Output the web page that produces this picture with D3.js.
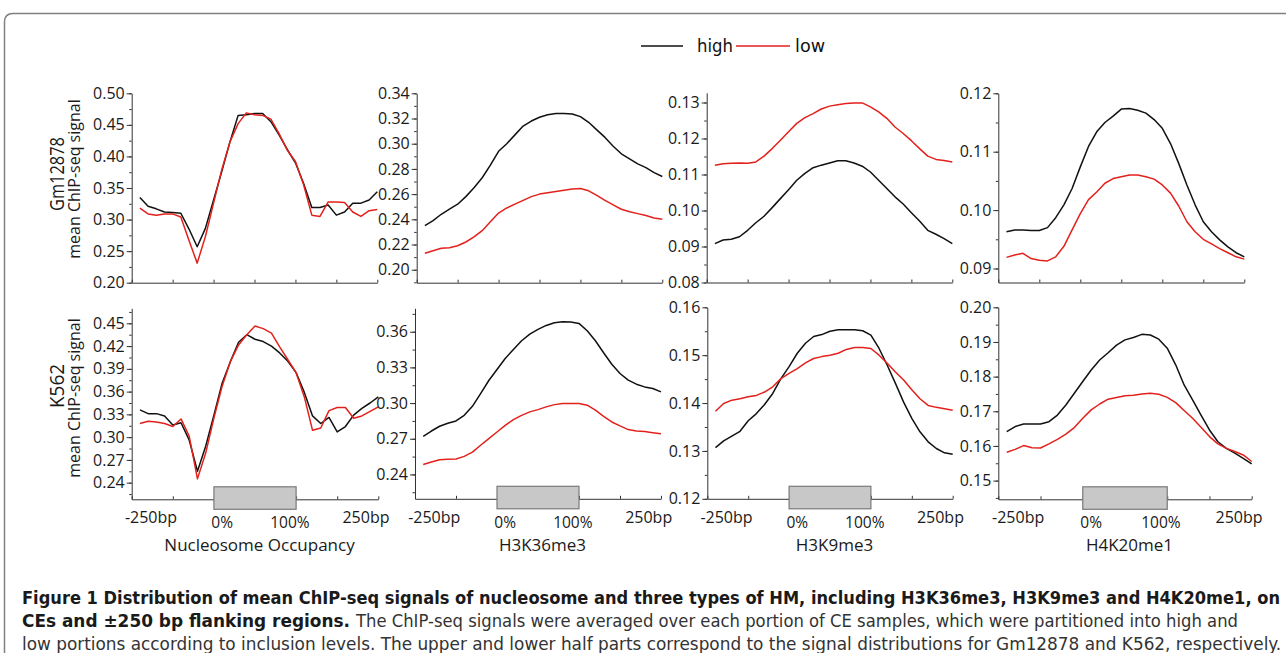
<!DOCTYPE html>
<html><head><meta charset="utf-8">
<script src="https://cdn.jsdelivr.net/npm/d3@7"></script>
<style>body{margin:0;background:#fff}svg{display:block}</style>
</head><body>
<svg id="chart" width="1286" height="653"></svg>
<script>
// ---------------- data ----------------
const bins = [1,2,3,4,5,6,7,8,9,10,11,12,13,14,15,16,17,18,19,20,21,22,23,24,25,26,27,28,29,30];
const seriesNames = ["high", "low"];
const rowNames = ["Gm12878", "K562"];
const colNames = ["Nucleosome Occupancy", "H3K36me3", "H3K9me3", "H4K20me1"];
const xTickLabels = ["-250bp", "0%", "100%", "250bp"];
const xTickLabelBins = [2.35, 11, 19.25, 28.5];

// Gm12878
const gmNucHigh = [0.335,0.321,0.317,0.312,0.311,0.310,0.285,0.257,0.286,0.331,0.376,0.423,0.465,0.466,0.468,0.468,0.455,0.434,0.411,0.390,0.357,0.319,0.319,0.323,0.307,0.312,0.326,0.326,0.331,0.344];
const gmNucLow  = [0.318,0.309,0.307,0.309,0.309,0.304,0.267,0.231,0.273,0.326,0.379,0.423,0.452,0.469,0.466,0.465,0.459,0.436,0.410,0.392,0.355,0.307,0.305,0.328,0.328,0.327,0.312,0.305,0.314,0.316];
const gmK36High = [0.235,0.239,0.244,0.248,0.252,0.258,0.265,0.273,0.283,0.294,0.300,0.307,0.314,0.318,0.321,0.323,0.324,0.324,0.3236,0.3215,0.317,0.311,0.305,0.298,0.292,0.288,0.284,0.281,0.277,0.274];
const gmK36Low  = [0.213,0.215,0.217,0.2175,0.219,0.222,0.226,0.231,0.238,0.245,0.249,0.252,0.255,0.258,0.260,0.261,0.262,0.263,0.264,0.2645,0.2626,0.259,0.255,0.2515,0.248,0.246,0.2445,0.243,0.241,0.240];
const gmK9High  = [0.0908,0.0918,0.0920,0.0927,0.0945,0.0966,0.0984,0.1008,0.1033,0.1058,0.1084,0.1103,0.1119,0.1126,0.1132,0.1138,0.1138,0.1132,0.1123,0.1107,0.1084,0.1061,0.1038,0.1018,0.0994,0.0971,0.0945,0.0934,0.0922,0.0908];
const gmK9Low   = [0.1126,0.1130,0.1131,0.1132,0.1131,0.1135,0.1151,0.1172,0.1195,0.1219,0.1242,0.1258,0.1269,0.1282,0.1290,0.1294,0.1297,0.1299,0.1299,0.1288,0.1274,0.1256,0.1232,0.1214,0.1194,0.1172,0.1151,0.1142,0.1139,0.1135];
const gmK20High = [0.0963,0.0966,0.0966,0.0965,0.0965,0.0970,0.0987,0.1009,0.1037,0.1074,0.1109,0.1134,0.1150,0.1161,0.1173,0.1174,0.1171,0.1166,0.1155,0.1140,0.1114,0.1080,0.1043,0.1009,0.0980,0.0963,0.0949,0.0937,0.0927,0.0920];
const gmK20Low  = [0.0919,0.0923,0.0926,0.0917,0.0914,0.0913,0.0920,0.0938,0.0966,0.0994,0.1018,0.1031,0.1046,0.1054,0.1057,0.1060,0.1060,0.1057,0.1053,0.1043,0.1029,0.1007,0.0980,0.0963,0.0950,0.0942,0.0934,0.0927,0.0920,0.0916];
// K562
const kNucHigh  = [0.336,0.331,0.331,0.328,0.316,0.319,0.296,0.255,0.288,0.329,0.371,0.3995,0.425,0.435,0.429,0.426,0.420,0.411,0.400,0.385,0.359,0.328,0.318,0.326,0.307,0.314,0.329,0.338,0.345,0.353];
const kNucLow   = [0.318,0.321,0.320,0.318,0.314,0.324,0.301,0.245,0.279,0.325,0.367,0.3995,0.4215,0.435,0.4465,0.443,0.437,0.419,0.402,0.385,0.353,0.309,0.312,0.335,0.339,0.339,0.325,0.328,0.334,0.340];
const kK36High  = [0.272,0.2765,0.2805,0.283,0.285,0.2897,0.2973,0.308,0.319,0.3282,0.3375,0.345,0.3524,0.358,0.362,0.3653,0.3676,0.3684,0.3681,0.367,0.3608,0.3524,0.3423,0.3327,0.3249,0.3193,0.3159,0.3136,0.3122,0.3094];
const kK36Low   = [0.2484,0.2504,0.2524,0.2527,0.2529,0.2552,0.2588,0.2645,0.2701,0.2757,0.2813,0.2861,0.2897,0.2926,0.2945,0.2968,0.2987,0.2996,0.2996,0.2996,0.2982,0.294,0.2889,0.2841,0.2808,0.2777,0.2765,0.276,0.2751,0.2743];
const kK9High   = [0.1307,0.1321,0.1331,0.1341,0.1363,0.1378,0.1397,0.1420,0.1451,0.1476,0.1504,0.1525,0.1539,0.1543,0.1550,0.1553,0.1553,0.1553,0.1551,0.1542,0.1514,0.1479,0.1441,0.1402,0.1368,0.1340,0.1319,0.1305,0.1296,0.1293];
const kK9Low    = [0.1383,0.1399,0.1406,0.1409,0.1413,0.1416,0.1423,0.1434,0.1451,0.1462,0.1472,0.1484,0.1493,0.1497,0.1500,0.1504,0.1512,0.1516,0.1516,0.1514,0.1500,0.1483,0.1465,0.1448,0.1428,0.1409,0.1395,0.1391,0.1388,0.1385];
const kK20High  = [0.1641,0.1656,0.1663,0.1663,0.1663,0.1670,0.1689,0.1718,0.1752,0.1786,0.1819,0.1848,0.1869,0.1891,0.1906,0.1913,0.1922,0.1920,0.1908,0.1882,0.1834,0.1776,0.1733,0.1689,0.1646,0.1612,0.1593,0.1579,0.1564,0.1548];
const kK20Low   = [0.1582,0.1590,0.1601,0.1595,0.1594,0.1606,0.1619,0.1634,0.1653,0.1680,0.1704,0.1721,0.1735,0.1740,0.1745,0.1746,0.1750,0.1752,0.1749,0.1740,0.1725,0.1702,0.1680,0.1654,0.1627,0.1606,0.1593,0.1584,0.1574,0.1555];

// y tick labels
const gmNucTicks = [0.20,0.25,0.30,0.35,0.40,0.45,0.50];
const gmK36Ticks = [0.20,0.22,0.24,0.26,0.28,0.30,0.32,0.34];
const gmK9Ticks  = [0.08,0.09,0.10,0.11,0.12,0.13];
const gmK20Ticks = [0.09,0.10,0.11,0.12];
const kNucTicks  = [0.24,0.27,0.30,0.33,0.36,0.39,0.42,0.45];
const kK36Ticks  = [0.24,0.27,0.30,0.33,0.36];
const kK9Ticks   = [0.12,0.13,0.14,0.15,0.16];
const kK20Ticks  = [0.15,0.16,0.17,0.18,0.19,0.20];

// ---------------- layout / style ----------------
const colors = {high: "#111111", low: "#e3211c"};
const FONT = "'Open Sans', 'DejaVu Sans', sans-serif";
const NARROW = "'Liberation Sans Narrow', 'DejaVu Sans Condensed', 'Liberation Sans', sans-serif";

const panels = [
  {row:0,col:0,high:gmNucHigh,low:gmNucLow,ticks:gmNucTicks,dom:[0.20,0.50],rng:[282.7,93.3],x:[131.7,377.3]},
  {row:0,col:1,high:gmK36High,low:gmK36Low,ticks:gmK36Ticks,dom:[0.1897,0.34],rng:[282.7,93.3],x:[416.7,662.3]},
  {row:0,col:2,high:gmK9High,low:gmK9Low,ticks:gmK9Ticks,dom:[0.08,0.1327],rng:[282.5,92.8],x:[706.7,952.3]},
  {row:0,col:3,high:gmK20High,low:gmK20Low,ticks:gmK20Ticks,dom:[0.0876,0.12],rng:[282.5,93.3],x:[998.3,1244.3]},
  {row:1,col:0,high:kNucHigh,low:kNucLow,ticks:kNucTicks,dom:[0.2181,0.4698],rng:[499.3,308.3],x:[131.7,378.3]},
  {row:1,col:1,high:kK36High,low:kK36Low,ticks:kK36Ticks,dom:[0.2195,0.3797],rng:[498.8,308.3],x:[415,661]},
  {row:1,col:2,high:kK9High,low:kK9Low,ticks:kK9Ticks,dom:[0.12,0.16],rng:[498.8,307.3],x:[707.3,952.7]},
  {row:1,col:3,high:kK20High,low:kK20Low,ticks:kK20Ticks,dom:[0.1446,0.20],rng:[499.3,307.3],x:[998.3,1251.7]}
];

const svg = d3.select("#chart");
svg.append("rect").attr("width",1286).attr("height",653).attr("fill","#fff");

// frame
svg.append("path")
  .attr("d","M1290,13.5 L13,13.5 Q4.5,13.5 4.5,22 L4.5,660")
  .attr("fill","none").attr("stroke","#808080").attr("stroke-width",1.5);

// legend
const leg = svg.append("g").attr("class","legend");
const legLines = [[641,683],[736,790]];
const legText = [697,795];
const legLen = [36,30];
seriesNames.forEach((s,i)=>{
  leg.append("line").attr("x1",legLines[i][0]).attr("x2",legLines[i][1])
    .attr("y1",46).attr("y2",46).attr("stroke",colors[s]).attr("stroke-width",1.6);
  leg.append("text").attr("x",legText[i]).attr("y",52)
    .attr("font-family",NARROW).attr("font-size",18).attr("fill","#111")
    .attr("textLength",legLen[i]).attr("lengthAdjust","spacingAndGlyphs").text(s);
});

panels.forEach(p=>{
  const g = svg.append("g");
  const x = d3.scaleLinear().domain([0,30]).range(p.x);
  const y = d3.scaleLinear().domain(p.dom).range(p.rng);
  const step = p.ticks[1]-p.ticks[0];
  const minor = [];
  for (let v = p.ticks[0] - step/2; v <= p.dom[1] + 1e-9; v += step/2) {
    if (v >= p.dom[0] - 1e-9) minor.push(v);
  }
  // minor y ticks
  const ym = g.append("g").attr("transform",`translate(${p.x[0]},0)`)
    .call(d3.axisLeft(y).tickValues(minor).tickSize(2.5).tickSizeOuter(0).tickFormat(""));
  ym.select(".domain").remove();
  ym.selectAll("line").attr("stroke","#333");
  // major y axis
  const ya = g.append("g").attr("transform",`translate(${p.x[0]},0)`)
    .call(d3.axisLeft(y).tickValues(p.ticks).tickSize(5).tickPadding(2).tickSizeOuter(0).tickFormat(d3.format(".2f")));
  ya.select(".domain").attr("stroke","#333");
  ya.selectAll("line").attr("stroke","#333");
  ya.selectAll("text").attr("font-family",FONT).attr("font-size",16).attr("fill","#1a1a1a");
  // x axis
  const xa = g.append("g").attr("transform",`translate(0,${p.rng[0]})`)
    .call(d3.axisBottom(x).tickValues([0,5,10,15,20,25,30]).tickSize(-3).tickSizeOuter(0).tickFormat(""));
  xa.select(".domain").attr("stroke","#333");
  xa.selectAll("line").attr("stroke","#333");

  // lines
  const line = d3.line().x((d,i)=>x(bins[i])).y(d=>y(d));
  seriesNames.forEach(s=>{
    g.append("path").datum(p[s]).attr("d",line)
      .attr("fill","none").attr("stroke",colors[s]).attr("stroke-width",1.5)
      .attr("stroke-linejoin","round");
  });

  if (p.row === 1) {
    const ay = p.rng[0];
    g.append("rect").attr("x",x(10)).attr("width",x(20)-x(10))
      .attr("y",ay-12.5).attr("height",22.5)
      .attr("fill","#c8c8c8").attr("stroke","#7a7a7a").attr("stroke-width",1.2);
    xTickLabels.forEach((t,i)=>{
      const edge = (i===0||i===3);
      g.append("text").attr("x",x(xTickLabelBins[i])).attr("y", ay + (edge ? 24 : 29))
        .attr("text-anchor","middle").attr("font-family",FONT).attr("font-size",edge ? 16 : 15.5)
        .attr("fill","#1a1a1a").text(t);
    });
    g.append("text").attr("x",(p.x[0]+p.x[1])/2+4.5).attr("y",ay+52)
      .attr("text-anchor","middle").attr("font-family",FONT).attr("font-size",17)
      .attr("fill","#1a1a1a").text(colNames[p.col]);
  }
});

// row labels
const rowCenters = [174, 386];
rowNames.forEach((r,i)=>{
  svg.append("text").attr("transform",`translate(64,${rowCenters[i]}) rotate(-90)`)
    .attr("text-anchor","middle").attr("font-family",FONT).attr("font-size",20)
    .attr("textLength", i===0 ? 74 : 44).attr("lengthAdjust","spacingAndGlyphs")
    .attr("fill","#1a1a1a").text(r);
  svg.append("text").attr("transform",`translate(80,${rowCenters[i]+ (i===0?5:12)}) rotate(-90)`)
    .attr("text-anchor","middle").attr("font-family",FONT).attr("font-size",16)
    .attr("fill","#1a1a1a").text("mean ChIP-seq signal");
});

// caption
const cap = svg.append("g").attr("font-family",NARROW).attr("font-size",18);
cap.append("text").attr("x",22).attr("y",604).attr("font-weight","bold").attr("fill","#1a1a1a")
  .attr("textLength",1258).attr("lengthAdjust","spacingAndGlyphs")
  .text("Figure 1 Distribution of mean ChIP-seq signals of nucleosome and three types of HM, including H3K36me3, H3K9me3 and H4K20me1, on");
cap.append("text").attr("x",22).attr("y",627).attr("font-weight","bold").attr("fill","#1a1a1a")
  .attr("textLength",328).attr("lengthAdjust","spacingAndGlyphs")
  .text("CEs and \u00b1250 bp flanking regions.");
cap.append("text").attr("x",356).attr("y",627).attr("fill","#333")
  .attr("textLength",882).attr("lengthAdjust","spacingAndGlyphs")
  .text("The ChIP-seq signals were averaged over each portion of CE samples, which were partitioned into high and");
cap.append("text").attr("x",22).attr("y",650).attr("fill","#333")
  .attr("textLength",1259).attr("lengthAdjust","spacingAndGlyphs")
  .text("low portions according to inclusion levels. The upper and lower half parts correspond to the signal distributions for Gm12878 and K562, respectively.");
</script>
</body></html>
